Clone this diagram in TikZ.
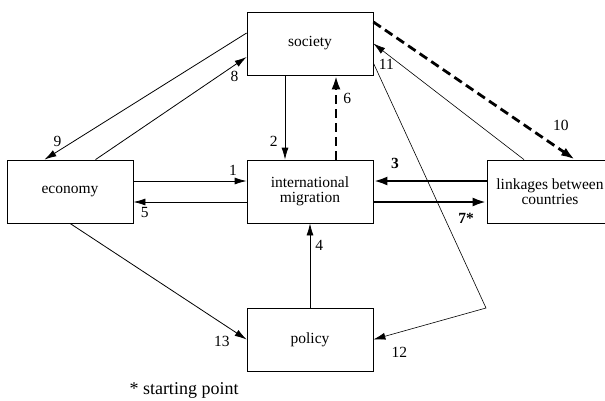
\documentclass[tikz,border=0pt]{standalone}
\usepackage{fontspec}
\setmainfont{Liberation Serif}
\usetikzlibrary{positioning}
\usetikzlibrary{arrows.meta}
\tikzset{
    factor/.style = {rectangle, draw, minimum width=126pt, minimum height=63pt, align=center, inner sep=2pt},
    num/.style = {inner sep=1pt},
    bignum/.style = {num, font=\fontsize{15.5}{15.5}\selectfont\bfseries},
    strong/.style = {line width=2.8pt, -{Latex[length=14pt,width=9pt]}},
    feedback/.style = {strong, dash pattern=on 9pt off 5pt}}

\begin{document}
\begin{tikzpicture}[x=1pt, y=-1pt, -{Latex[length=12pt,width=7pt]}, line width=0.8pt,
    node distance = 148pt and 240pt, on grid,
    font=\fontsize{15.5}{15.5}\selectfont]
    \useasboundingbox (0,0) rectangle (605,400);
    \node[factor] (mig) at (310,191.5) {international\\migration};
    \node[factor] (eco) [left = of mig] {economy};
    \node[factor] (lnk) [right = of mig] {linkages between\\countries};
    \node[factor] (soc) [above = of mig] {society};
    \node[factor] (pol) [below = of mig] {policy};
    \coordinate (turn) at (486,308);
    % between economy and migration
    \draw ([yshift=10.5pt]eco.east) -- node[num, above=4pt, pos=0.88] (n1) {1} ([yshift=10.5pt]mig.west);
    \draw ([yshift=-10.5pt]mig.west) -- node[num, below=4pt, pos=0.9] (n5) {5} ([yshift=-10.5pt]eco.east);
    % society, policy and migration
    \draw ([xshift=-25pt]soc.south) -- node[num, left=6pt, pos=0.78] (n2) {2} ([xshift=-25pt]mig.north);
    \draw[feedback] ([xshift=26pt]mig.north) -- node[num, right=5pt, pos=0.73] (n6) {6} ([xshift=26pt]soc.south);
    \draw (pol.north) -- node[num, right=4pt, pos=0.74] (n4) {4} (mig.south);
    % linkages
    \draw[strong] ([yshift=10.5pt]lnk.west) -- node[bignum, above=10pt, pos=0.81] (n3) {3} ([yshift=10.5pt]mig.east);
    \draw[strong] ([yshift=-10.5pt]mig.east) -- node[bignum, below=9pt, pos=0.82] (n7) {7*} ([yshift=-10.5pt]lnk.west);
    % economy and society
    \draw ([xshift=25.5pt]eco.north) -- node[num, below=5pt, pos=0.92] (n8) {8} ([yshift=-13.5pt]soc.west);
    \draw ([yshift=10.5pt]soc.west) -- node[num, above=3pt, pos=0.936] (n9) {9} ([xshift=-25.5pt]eco.north);
    % society and linkages
    \draw[feedback] ([yshift=21.5pt]soc.east) -- node[num, above=17pt, pos=0.93] (n10) {10} ([xshift=25pt]lnk.north);
    \draw[line width=0.6pt] ([xshift=-26pt]lnk.north) -- node[num, below=4pt, pos=0.914] (n11) {11} (soc.east);
    % towards policy
    \draw[line width=0.6pt] ([yshift=-19.5pt]soc.east) -- (turn) -- node[num, below=14pt, pos=0.77] (n12) {12} (pol.east);
    \draw (eco.south) -- node[num, below=12pt, pos=0.86] (n13) {13} (pol.west);
    \node[font=\fontsize{18}{18}\selectfont] (note) at (184,390) {* starting point};
\end{tikzpicture}
\end{document}
